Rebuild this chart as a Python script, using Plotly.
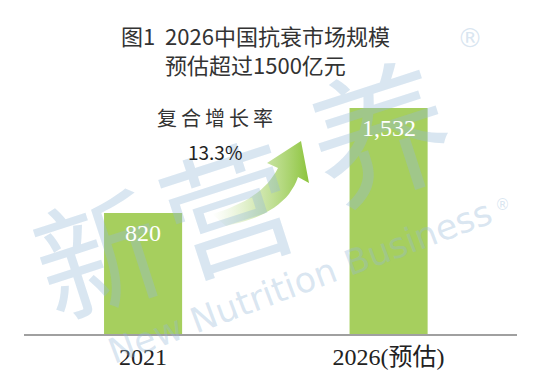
import plotly.graph_objects as go

# ---- data ----
categories = ["2021", "2026(预估)"]
values = [820, 1532]
value_labels = ["820", "1,532"]
title_lines = ["图1  2026中国抗衰市场规模", "预估超过1500亿元"]
cagr_label = "复合增长率"
cagr_value = "13.3%"

# ---- geometry helpers (pixel -> data) ----
W, H = 554, 382
ML, MR, MT, MB = 24, 37, 98, 48
PW, PH = W - ML - MR, H - MT - MB
XR = [-0.485, 1.523]
YR = [0, 1600]

def px2x(px):
    return XR[0] + (px - ML) / PW * (XR[1] - XR[0])

def py2y(py):
    return YR[0] + (H - MB - py) / PH * (YR[1] - YR[0])

def px2paper(px):
    return (px - ML) / PW

def py2paper(py):
    return (H - MB - py) / PH

def qbez(p0, p1, p2, n=16):
    pts = []
    for i in range(n + 1):
        t = i / n
        x = (1 - t) ** 2 * p0[0] + 2 * (1 - t) * t * p1[0] + t ** 2 * p2[0]
        y = (1 - t) ** 2 * p0[1] + 2 * (1 - t) * t * p1[1] + t ** 2 * p2[1]
        pts.append((x, y))
    return pts

xpos = list(range(len(categories)))

fig = go.Figure()
fig.add_trace(go.Bar(
    x=xpos, y=values, width=0.318,
    marker=dict(color="#a6cf5e", line=dict(width=0)),
    hoverinfo="skip", showlegend=False,
))

# curved growth arrow (decoration)
outer = qbez((226, 226), (286, 214), (298, 177))
inner = qbez((278, 168), (262, 200), (212, 214))
poly = outer + [(309, 183), (301, 141), (267, 163)] + inner
fig.add_trace(go.Scatter(
    x=[px2x(p[0]) for p in poly], y=[py2y(p[1]) for p in poly],
    mode="lines", fill="toself", line=dict(width=0),
    fillgradient=dict(type="horizontal",
                      colorscale=[[0, "rgba(200,228,160,0.0)"],
                                  [0.45, "rgba(170,212,110,0.5)"],
                                  [1, "rgba(140,196,60,1)"]]),
    hoverinfo="skip", showlegend=False,
))

annotations = []
# watermark
wm = "rgba(150,185,215,0.36)"
for ch, cx, cy, sz in [("新", 96, 248, 125), ("营", 226, 202, 132), ("养", 378, 126, 140)]:
    annotations.append(dict(text=ch, xref="paper", yref="paper", x=px2paper(cx), y=py2paper(cy),
                            showarrow=False, textangle=-18,
                            font=dict(family="Noto Sans CJK SC", size=sz, color=wm),
                            xanchor="center", yanchor="middle"))
annotations.append(dict(text="New Nutrition Business", xref="paper", yref="paper",
                        x=px2paper(300), y=py2paper(282), showarrow=False, textangle=-20.5,
                        font=dict(family="DejaVu Sans", size=35, color=wm),
                        xanchor="center", yanchor="middle"))
for cx, cy, sz in [(470, 38, 26), (502, 205, 15)]:
    annotations.append(dict(text="®", xref="paper", yref="paper", x=px2paper(cx), y=py2paper(cy),
                            showarrow=False, font=dict(family="DejaVu Sans", size=sz, color=wm),
                            xanchor="center", yanchor="middle"))

# title
for line, cy in zip(title_lines, [35, 64]):
    annotations.append(dict(text=line, xref="paper", yref="paper", x=px2paper(255), y=py2paper(cy),
                            showarrow=False, font=dict(family="Noto Sans CJK SC", size=22, color="#333333"),
                            xanchor="center", yanchor="middle"))
# value labels inside bars
for xv, v, lab in zip(xpos, values, value_labels):
    annotations.append(dict(text=lab, x=xv, y=v, xref="x", yref="y", yshift=-20,
                            showarrow=False, font=dict(family="Liberation Serif", size=24, color="white"),
                            xanchor="center", yanchor="middle"))
# CAGR
annotations.append(dict(text="\u2009".join(cagr_label), xref="paper", yref="paper", x=px2paper(215), y=py2paper(117),
                        showarrow=False, font=dict(family="Noto Sans CJK SC", size=20, color="#333333"),
                        xanchor="center", yanchor="middle"))
annotations.append(dict(text=cagr_value, xref="paper", yref="paper", x=px2paper(215), y=py2paper(151),
                        showarrow=False, font=dict(family="Noto Sans CJK SC", size=19, color="#222222"),
                        xanchor="center", yanchor="middle"))

fig.update_layout(
    width=W, height=H,
    margin=dict(l=ML, r=MR, t=MT, b=MB),
    paper_bgcolor="white", plot_bgcolor="rgba(0,0,0,0)",
    annotations=annotations,
    xaxis=dict(range=XR, tickvals=xpos, ticktext=categories, showgrid=False, zeroline=False,
               showline=True, linecolor="#a0a0a0", linewidth=1.5, ticks="",
               tickfont=dict(family="Liberation Serif, Noto Sans CJK SC", size=24, color="#222222"),
               fixedrange=True),
    yaxis=dict(range=YR, visible=False, fixedrange=True),
)

fig.write_html("out.html")
